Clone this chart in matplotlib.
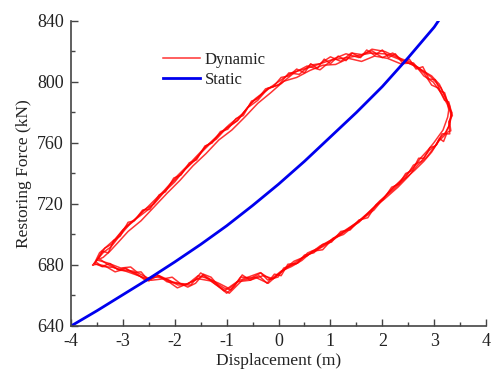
import matplotlib
matplotlib.use('Agg')
import matplotlib.pyplot as plt
from matplotlib.ticker import MultipleLocator

plt.rcParams['font.family'] = ['Liberation Serif', 'DejaVu Serif']
plt.rcParams['axes.unicode_minus'] = False

# dynamic loops (displacement m, force kN), one list per strand
x1 = [-3.50, -3.37, -3.23, -3.08, -2.85, -2.52, -2.13, -1.75, -1.44, -1.11, -0.78, -0.53, -0.15, 0.24, 0.62,
      1.01, 1.40, 1.78, 2.07, 2.36, 2.68, 2.94, 3.13, 3.26, 3.28, 3.26, 3.17, 2.99, 2.88, 2.74, 2.61, 2.36,
      2.11, 1.84, 1.59, 1.20, 0.82, 0.56, 0.37, 0.10, -0.01, -0.21, -0.34, -0.53, -0.73, -0.92, -1.05, -1.30,
      -1.50, -1.69, -1.94, -2.13, -2.33, -2.52, -2.71, -2.85, -3.04, -3.29, -3.50]
y1 = [683.3, 688.5, 691.8, 698.4, 707.5, 716.1, 731.1, 744.3, 755.4, 766.6, 775.1, 786.2, 796.7, 805.9, 809.8,
      814.4, 816.4, 819.0, 818.4, 814.4, 809.8, 803.3, 796.1, 786.2, 781.6, 777.0, 768.5, 760.0, 755.4, 750.2,
      744.3, 735.7, 727.2, 716.1, 709.5, 701.0, 691.8, 687.9, 681.3, 678.0, 672.1, 670.2, 674.8, 671.5, 672.1,
      663.6, 664.9, 670.2, 674.8, 666.9, 666.9, 670.2, 672.1, 671.5, 674.8, 678.7, 678.0, 681.3, 683.3]

x2 = [-3.55, -3.45, -3.30, -3.15, -2.95, -2.70, -2.45, -2.20, -1.95, -1.70, -1.45, -1.20, -0.95, -0.70, -0.45,
      -0.20, 0.05, 0.30, 0.55, 0.80, 1.05, 1.30, 1.55, 1.80, 2.05, 2.30, 2.55, 2.75, 2.95, 3.10, 3.22, 3.30,
      3.32, 3.28, 3.20, 3.08, 2.95, 2.80, 2.62, 2.42, 2.20, 1.95, 1.70, 1.45, 1.20, 0.95, 0.70, 0.45, 0.20,
      0.00, -0.20, -0.45, -0.70, -0.95, -1.20, -1.45, -1.70, -1.95, -2.20, -2.45, -2.70, -2.95, -3.20, -3.40, -3.55]
y2 = [681.0, 688.0, 692.5, 697.0, 705.0, 712.0, 720.5, 729.0, 738.5, 747.0, 756.0, 764.0, 772.0, 779.0, 789.0,
      795.5, 799.0, 806.0, 810.5, 808.0, 815.0, 818.5, 816.0, 821.5, 820.0, 816.0, 813.0, 808.0, 804.0, 798.5,
      790.0, 784.0, 778.0, 771.0, 765.0, 761.0, 754.0, 748.0, 742.0, 736.0, 729.0, 722.0, 713.0, 706.5, 700.0,
      694.0, 689.0, 684.5, 679.0, 674.0, 668.0, 672.0, 670.0, 661.5, 667.0, 673.0, 668.5, 665.0, 671.0, 670.0,
      673.0, 676.0, 678.5, 679.0, 681.0]

x3 = [-3.45, -3.38, -3.25, -3.10, -2.90, -2.65, -2.40, -2.15, -1.90, -1.65, -1.40, -1.15, -0.90, -0.65, -0.40,
      -0.15, 0.10, 0.35, 0.60, 0.85, 1.10, 1.35, 1.60, 1.85, 2.10, 2.35, 2.60, 2.80, 2.98, 3.15, 3.25, 3.33,
      3.30, 3.22, 3.12, 3.00, 2.85, 2.68, 2.50, 2.30, 2.05, 1.80, 1.55, 1.30, 1.05, 0.80, 0.55, 0.30, 0.10,
      -0.10, -0.30, -0.55, -0.80, -1.05, -1.30, -1.55, -1.80, -2.05, -2.30, -2.55, -2.80, -3.05, -3.30, -3.45]
y3 = [684.0, 685.0, 689.0, 694.5, 702.0, 709.0, 718.0, 727.0, 735.5, 745.0, 753.0, 762.0, 768.5, 777.0, 786.0,
      793.0, 800.5, 803.0, 807.5, 811.0, 811.5, 815.5, 813.5, 817.0, 815.5, 812.0, 812.5, 804.0, 800.0, 792.0,
      785.5, 779.0, 772.0, 767.0, 763.5, 757.0, 750.5, 745.5, 738.0, 731.0, 723.5, 716.5, 708.0, 702.5, 697.0,
      692.5, 686.0, 682.5, 677.0, 671.0, 673.0, 670.0, 669.0, 663.0, 669.5, 671.0, 667.0, 669.0, 673.0, 669.5,
      676.0, 676.5, 680.5, 684.0]

x4 = [-3.52, -3.40, -3.28, -3.18, -3.05, -2.90, -2.78, -2.62, -2.48, -2.30, -2.18, -2.02, -1.88, -1.72, -1.58,
      -1.42, -1.28, -1.12, -0.98, -0.82, -0.68, -0.52, -0.40, -0.25, -0.10, 0.05, 0.20, 0.35, 0.50, 0.62,
      0.75, 0.88, 1.00, 1.15, 1.30, 1.42, 1.58, 1.70, 1.85, 2.00, 2.12, 2.25, 2.40, 2.52, 2.65,
      2.78, 2.90, 3.02, 3.12, 3.20, 3.28, 3.34, 3.30, 3.32, 3.25, 3.18, 3.10, 3.02, 2.92, 2.80,
      2.70, 2.58, 2.45, 2.32, 2.18, 2.02, 1.88, 1.72, 1.55, 1.38, 1.20, 1.02, 0.85, 0.68, 0.50,
      0.35, 0.18, 0.05, -0.08, -0.22, -0.38, -0.55, -0.70, -0.85, -1.00, -1.15, -1.30, -1.45, -1.60, -1.75,
      -1.90, -2.05, -2.20, -2.35, -2.50, -2.65, -2.80, -2.95, -3.10, -3.25, -3.40, -3.52]
y4 = [682.0, 689.0, 688.0, 696.0, 699.0, 708.0, 709.0, 716.0, 716.5, 726.0, 728.0, 737.0, 739.0, 747.0, 749.0,
      758.0, 760.0, 767.5, 769.0, 776.0, 778.0, 787.5, 789.0, 795.5, 797.0, 803.0, 804.0, 808.5, 806.0, 812.0,
      809.0, 815.0, 812.0, 817.0, 814.0, 819.0, 816.0, 821.0, 817.5, 821.0, 816.0, 818.5, 812.0, 815.0, 808.5,
      810.0, 802.0, 801.5, 794.0, 793.0, 784.0, 780.0, 773.0, 768.0, 767.0, 761.0, 763.0, 758.0, 757.0, 750.0,
      750.0, 742.0, 740.0, 733.0, 731.0, 723.0, 719.5, 711.0, 709.5, 703.0, 702.0, 695.0, 693.5, 688.0, 686.5,
      681.0, 680.5, 673.0, 674.0, 668.0, 673.0, 670.0, 673.5, 666.0, 661.5, 666.0, 672.0, 674.0, 668.0, 665.5,
      668.0, 672.0, 671.0, 673.5, 669.5, 675.5, 675.0, 678.0, 677.0, 681.0, 679.0, 682.0]

x5 = [-3.58, -3.48, -3.35, -3.20, -3.00, -2.80, -2.60, -2.40, -2.20, -2.00, -1.80, -1.60, -1.40, -1.20, -1.00,
      -0.80, -0.60, -0.40, -0.20, 0.00, 0.20, 0.40, 0.60, 0.80, 1.00, 1.20, 1.40, 1.60, 1.80, 2.00,
      2.20, 2.40, 2.60, 2.80, 2.95, 3.08, 3.20, 3.28, 3.35, 3.28, 3.30, 3.15, 3.05, 2.90, 2.75,
      2.60, 2.45, 2.25, 2.05, 1.85, 1.65, 1.45, 1.25, 1.05, 0.85, 0.65, 0.45, 0.25, 0.05, -0.15,
      -0.35, -0.55, -0.75, -0.95, -1.15, -1.35, -1.55, -1.75, -1.95, -2.15, -2.35, -2.55, -2.75, -2.95, -3.15,
      -3.35, -3.50, -3.58]
y5 = [680.0, 684.0, 691.0, 694.0, 703.0, 708.5, 716.0, 720.0, 728.0, 734.5, 743.0, 749.0, 758.0, 762.5, 770.0,
      774.5, 783.0, 788.0, 796.0, 798.0, 806.0, 805.0, 811.0, 812.0, 816.5, 813.5, 819.0, 818.0, 820.5, 816.0,
      819.0, 814.0, 811.0, 806.0, 798.0, 796.0, 788.0, 787.0, 778.0, 774.0, 766.0, 766.0, 759.0, 755.0, 748.0,
      745.5, 737.5, 732.0, 725.0, 718.0, 712.0, 705.5, 700.0, 697.5, 690.0, 689.0, 683.0, 679.0, 676.0, 670.5,
      675.0, 672.5, 670.0, 664.5, 668.0, 671.0, 673.0, 667.5, 668.0, 669.0, 674.0, 670.5, 674.0, 677.5, 675.5,
      679.5, 680.5, 680.0]

dyn_x = [x1, x2, x3, x4, x5]
dyn_y = [y1, y2, y3, y4, y5]

# static curve
static_x = [-4.0, -3.5, -3.0, -2.5, -2.0, -1.5, -1.0, -0.5, 0.0, 0.5, 1.0, 1.5, 2.0, 2.5, 3.0, 3.08]
static_y = [640.0, 650.0, 660.5, 671.0, 682.0, 693.5, 705.7, 719.0, 733.0, 748.0, 764.0, 780.0, 797.0, 816.0, 836.0, 840.0]

fig = plt.figure(figsize=(4.91, 3.71), dpi=100)
ax = fig.add_axes([0.1446, 0.1213, 0.8454, 0.8221])

for i in range(len(dyn_x)):
    ax.plot(dyn_x[i], dyn_y[i], color='#ff0000', lw=1.1, alpha=0.8,
            label='Dynamic' if i == 0 else None)
ax.plot(static_x, static_y, color='#0000ee', lw=2.0, label='Static')

ax.set_xlim(-4, 4)
ax.set_ylim(640, 840)
ax.xaxis.set_major_locator(MultipleLocator(1))
ax.xaxis.set_minor_locator(MultipleLocator(0.5))
ax.yaxis.set_major_locator(MultipleLocator(40))
ax.yaxis.set_minor_locator(MultipleLocator(20))

for s in ['top', 'right']:
    ax.spines[s].set_visible(False)
for s in ['left', 'bottom']:
    ax.spines[s].set_color('#444444')
    ax.spines[s].set_linewidth(1.2)

ax.tick_params(which='both', direction='in', color='#444444', width=1.0, labelsize=13,
               labelcolor='#222222', pad=5)
ax.tick_params(which='major', length=5)
ax.tick_params(which='minor', length=3)

ax.set_xlabel('Displacement (m)', fontsize=12.5, color='#222222', labelpad=2)
ax.set_ylabel('Restoring Force (kN)', fontsize=12.5, color='#222222', labelpad=4)

leg = ax.legend(loc='upper left', bbox_to_anchor=(0.222, 0.898), frameon=False, fontsize=12,
                handlelength=2.2, handletextpad=0.3, labelspacing=0.25, borderpad=0,
                borderaxespad=0)
for t in leg.get_texts():
    t.set_color('#222222')

fig.savefig('out.png', dpi=100)
